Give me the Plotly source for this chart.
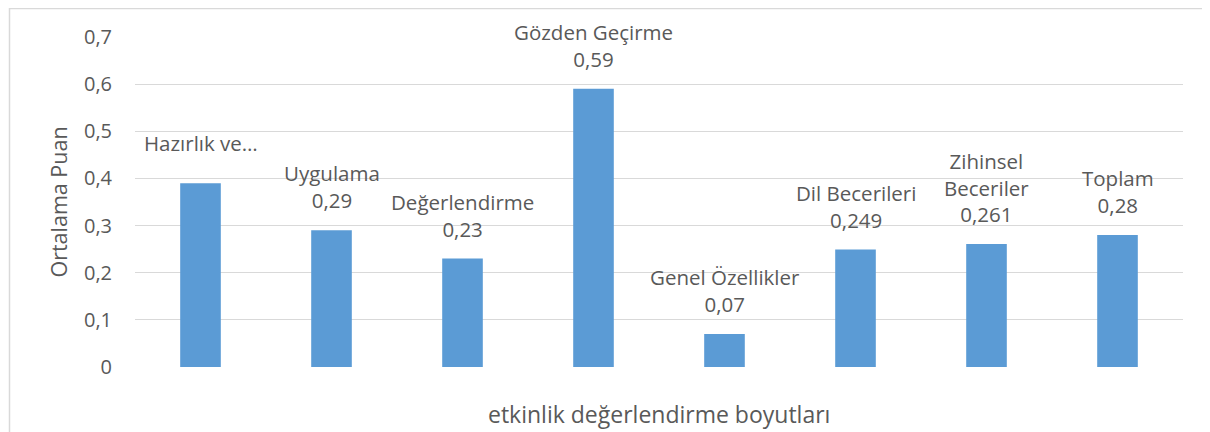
import plotly.graph_objects as go

categories = ["Hazırlık ve Planlama", "Uygulama", "Değerlendirme", "Gözden Geçirme",
              "Genel Özellikler", "Dil Becerileri", "Zihinsel Beceriler", "Toplam"]
values = [0.39, 0.29, 0.23, 0.59, 0.07, 0.249, 0.261, 0.28]
label_names = ["Hazırlık ve…", "Uygulama", "Değerlendirme", "Gözden Geçirme",
               "Genel Özellikler", "Dil Becerileri", "Zihinsel<br>Beceriler", "Toplam"]
value_texts = ["0,39", "0,29", "0,23", "0,59", "0,07", "0,249", "0,261", "0,28"]
y_ticks = [0, 0.1, 0.2, 0.3, 0.4, 0.5, 0.6, 0.7]
y_tick_labels = ["0", "0,1", "0,2", "0,3", "0,4", "0,5", "0,6", "0,7"]
x_title = "etkinlik değerlendirme boyutları"
y_title = "Ortalama Puan"

FONT = "Open Sans"
GREY = "#595959"

fig = go.Figure()
fig.add_trace(go.Bar(x=categories, y=values, marker=dict(color="#5b9bd5", line=dict(width=0)),
                     hoverinfo="x+y"))

annotations = []
for cat, v, name, vt in zip(categories, values, label_names, value_texts):
    truncated = name.endswith("…")
    text = name if truncated else f"{name}<br>{vt}"
    annotations.append(dict(x=cat, y=v, xref="x", yref="y", text=text, showarrow=False,
                            yanchor="bottom", yshift=(24 if truncated else 14),
                            font=dict(family=FONT, size=20.5, color=GREY)))
# x axis title
annotations.append(dict(x=0.5, y=0, xref="paper", yref="paper", text=x_title, showarrow=False,
                        xanchor="center", yanchor="middle", yshift=-47,
                        font=dict(family=FONT, size=23, color=GREY)))

# page body has an 8px margin, so the figure is offset by 8px
OFF = 8
W, H = 1210 - OFF, 432 - OFF
ml, mr, mt, mb = 135 - OFF, 27, 37 - OFF, 65
pw, ph = W - ml - mr, H - mt - mb
# outer frame (chart area border)
fig.add_shape(type="rect", xref="paper", yref="paper",
              x0=(1.5 - ml) / pw, x1=(1215 - ml) / pw,
              y0=(-40 - mb) / ph, y1=(H - mb - 0.5) / ph,
              line=dict(color="#d9d9d9", width=1.5), fillcolor="rgba(0,0,0,0)", layer="below")

fig.update_layout(
    width=W, height=H,
    margin=dict(l=ml, r=mr, t=mt, b=mb, autoexpand=False),
    paper_bgcolor="white", plot_bgcolor="white",
    bargap=0.69,
    showlegend=False,
    annotations=annotations,
    font=dict(family=FONT, color=GREY),
    xaxis=dict(showticklabels=False, showgrid=False, zeroline=False, showline=False,
               automargin=False),
    yaxis=dict(range=[0, 0.7], tickvals=y_ticks, ticktext=y_tick_labels,
               tickfont=dict(family=FONT, size=20, color=GREY),
               showgrid=True, gridcolor="#d9d9d9", gridwidth=1,
               zeroline=False, showline=False, ticks="", ticklabelstandoff=22,
               automargin=False,
               title=dict(text=y_title, standoff=10,
                          font=dict(family=FONT, size=21.5, color=GREY))),
)

fig.write_html("out.html")
